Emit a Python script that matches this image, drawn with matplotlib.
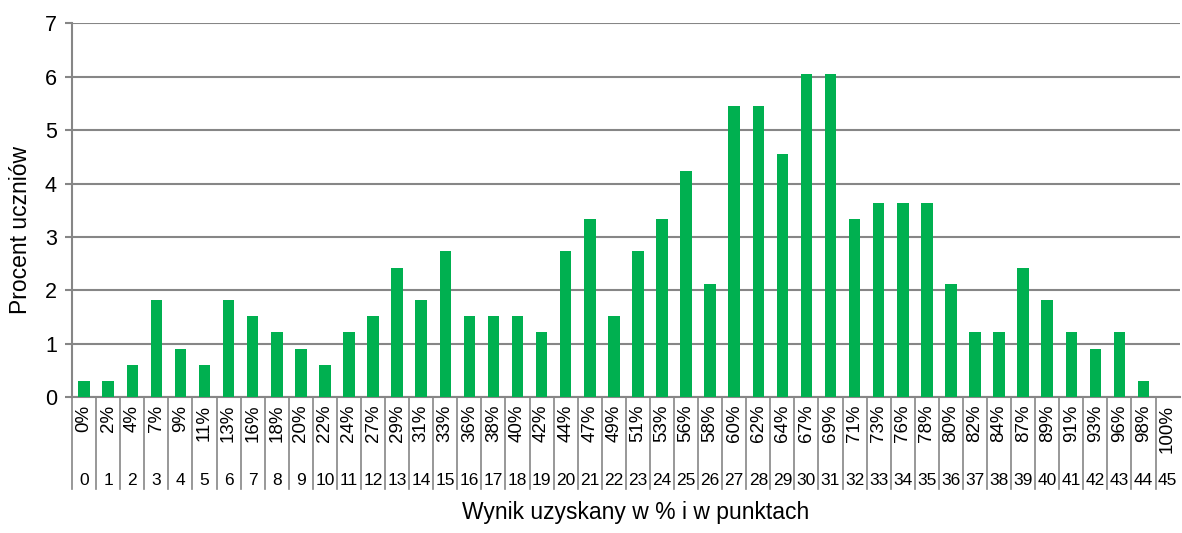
import numpy as np
import matplotlib.pyplot as plt

plt.rcParams['font.family'] = ['Liberation Sans', 'DejaVu Sans']

# punkty 0..45, procent wyniku, procent uczniów
points = list(range(46))
pct_labels = ['0%', '2%', '4%', '7%', '9%', '11%', '13%', '16%', '18%', '20%',
              '22%', '24%', '27%', '29%', '31%', '33%', '36%', '38%', '40%', '42%',
              '44%', '47%', '49%', '51%', '53%', '56%', '58%', '60%', '62%', '64%',
              '67%', '69%', '71%', '73%', '76%', '78%', '80%', '82%', '84%', '87%',
              '89%', '91%', '93%', '96%', '98%', '100%']
students_pct = [0.30, 0.30, 0.61, 1.82, 0.91, 0.61, 1.82, 1.52, 1.21, 0.91,
                0.61, 1.21, 1.52, 2.42, 1.82, 2.73, 1.52, 1.52, 1.52, 1.21,
                2.73, 3.33, 1.52, 2.73, 3.33, 4.24, 2.12, 5.45, 5.45, 4.55,
                6.06, 6.06, 3.33, 3.64, 3.64, 3.64, 2.12, 1.21, 1.21, 2.42,
                1.82, 1.21, 0.91, 1.21, 0.30, 0.00]

grid_col = '#868686'

fig = plt.figure(figsize=(11.82, 5.33), dpi=100)
ax = fig.add_axes([0.061, 0.255, 0.937, 0.701])

ax.bar(points, students_pct, width=0.48, color='#00B050', zorder=3)

ax.set_xlim(-0.5, 45.5)
ax.set_ylim(0, 7)
ax.set_yticks(range(8))
ax.yaxis.grid(True, color=grid_col, linewidth=1.5)
ax.set_axisbelow(True)
ax.tick_params(axis='y', labelsize=15.5, length=5, width=1.5, color=grid_col, pad=6)
ax.set_xticks([])

for s in ['top', 'right']:
    ax.spines[s].set_visible(False)
for s in ['left', 'bottom']:
    ax.spines[s].set_color(grid_col)
    ax.spines[s].set_linewidth(1.5)

# dwupoziomowe etykiety osi X
tr = ax.get_xaxis_transform()
for i in points:
    ax.text(i, -0.02, pct_labels[i], transform=tr, rotation=90, ha='center', va='top',
            fontsize=13.5)
    ax.text(i, -0.222, str(points[i]), transform=tr, ha='center', va='center',
            fontsize=12.5)
for i in range(46):
    ax.plot([i - 0.5, i - 0.5], [0, -0.246], transform=tr, color=grid_col,
            linewidth=1.2, clip_on=False)

ax.set_ylabel('Procent uczniów', fontsize=16.5)
ax.yaxis.set_label_coords(-0.036, 0.447)
fig.text(0.538, 0.026, 'Wynik uzyskany w % i w punktach', ha='center', va='baseline',
         fontsize=16.5)

fig.savefig('out.png', dpi=100)
